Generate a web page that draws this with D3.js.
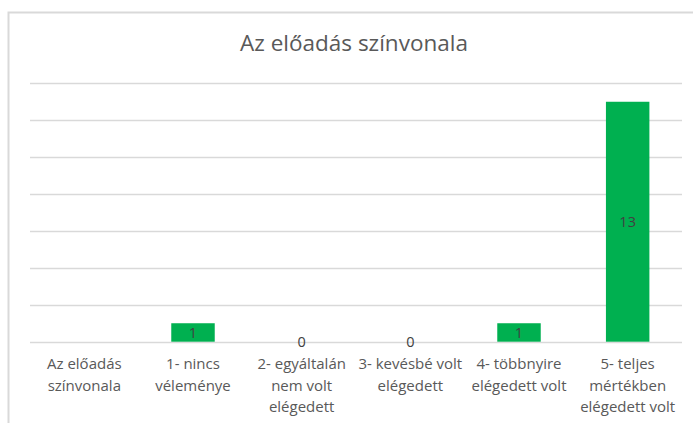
<!DOCTYPE html>
<html>
<head>
<meta charset="utf-8">
<script src="https://cdn.jsdelivr.net/npm/d3@7"></script>
<style>
  html, body { margin: 0; padding: 0; background: #fff; }
  svg { display: block; font-family: "Open Sans", sans-serif; }
</style>
</head>
<body>
<svg id="chart" width="693" height="423"></svg>
<script>
const title = "Az előadás színvonala";
const categories = [
  "Az előadás\nszínvonala",
  "1- nincs\nvéleménye",
  "2- egyáltalán\nnem volt\nelégedett",
  "3- kevésbé volt\nelégedett",
  "4- többnyire\nelégedett volt",
  "5- teljes\nmértékben\nelégedett volt"
];
const values = [null, 1, 0, 0, 1, 13];
const yTicks = [0, 2, 4, 6, 8, 10, 12, 14];

const svg = d3.select("#chart");
const width = 693, height = 423;
const margin = { top: 83.3, right: 11, bottom: 81.3, left: 30 };

// chart frame
svg.append("rect")
  .attr("x", 8.5).attr("y", 12.5)
  .attr("width", width + 10).attr("height", height + 10)
  .attr("fill", "none")
  .attr("stroke", "#d9d9d9")
  .attr("stroke-width", 2);

svg.append("text")
  .attr("x", 354)
  .attr("y", 51)
  .attr("text-anchor", "middle")
  .attr("fill", "#595959")
  .style("font-size", "22.5px")
  .text(title);

const x = d3.scaleBand()
  .domain(categories)
  .range([margin.left, width - margin.right])
  .paddingInner(0.6)
  .paddingOuter(0.3);

const y = d3.scaleLinear()
  .domain([0, 14])
  .range([height - margin.bottom, margin.top]);

// gridlines
svg.append("g")
  .selectAll("line")
  .data(yTicks)
  .join("line")
  .attr("x1", margin.left)
  .attr("x2", width - margin.right)
  .attr("y1", d => Math.round(y(d)) + 0.5)
  .attr("y2", d => Math.round(y(d)) + 0.5)
  .attr("stroke", "#d9d9d9")
  .attr("stroke-width", 1.3);

const data = categories.map((c, i) => ({ cat: c, value: values[i] }));

svg.append("g")
  .selectAll("rect")
  .data(data.filter(d => d.value))
  .join("rect")
  .attr("x", d => x(d.cat))
  .attr("width", x.bandwidth())
  .attr("y", d => y(d.value))
  .attr("height", d => y(0) - y(d.value))
  .attr("fill", "#00b050");

// data labels (centered)
svg.append("g")
  .selectAll("text")
  .data(data.filter(d => d.value !== null))
  .join("text")
  .attr("x", d => x(d.cat) + x.bandwidth() / 2)
  .attr("y", d => (y(d.value) + y(0)) / 2)
  .attr("dy", "0.35em")
  .attr("text-anchor", "middle")
  .attr("fill", "#404040")
  .style("font-size", "14.5px")
  .text(d => d.value);

// category labels
const labels = svg.append("g")
  .selectAll("text")
  .data(categories)
  .join("text")
  .attr("text-anchor", "middle")
  .attr("fill", "#595959")
  .style("font-size", "15px");

labels.each(function(c) {
  const t = d3.select(this);
  c.split("\n").forEach((line, i) => {
    t.append("tspan")
      .attr("x", x(c) + x.bandwidth() / 2)
      .attr("y", 369 + i * 21.5)
      .text(line);
  });
});
</script>
</body>
</html>
